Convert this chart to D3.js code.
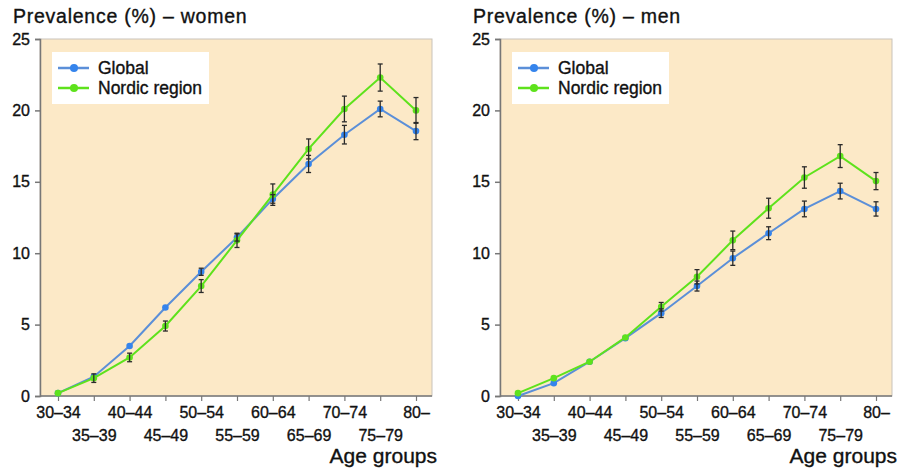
<!DOCTYPE html>
<html><head><meta charset="utf-8">
<script src="https://cdn.jsdelivr.net/npm/d3@7"></script>
<style>
html,body{margin:0;padding:0;background:#fff;}
svg{display:block;font-family:"Liberation Sans",Arial,sans-serif;}
svg text{stroke:#111;stroke-width:0.35px;}
</style></head>
<body>
<svg id="c" width="902" height="468"></svg>
<script>
const ageGroups = ["30–34","35–39","40–44","45–49","50–54","55–59","60–64","65–69","70–74","75–79","80–"];
const yTicks = [0,5,10,15,20,25];
const seriesNames = ["Global","Nordic region"];

const womenGlobal = [0.2,1.35,3.5,6.2,8.7,11.1,13.8,16.25,18.3,20.1,18.55];
const womenGlobalErr = [0.05,0.1,0.1,0.1,0.25,0.25,0.3,0.6,0.65,0.55,0.6];
const womenNordic = [0.2,1.25,2.7,4.9,7.7,10.9,14.1,17.3,20.1,22.3,20.0];
const womenNordicErr = [0.1,0.3,0.3,0.35,0.45,0.5,0.75,0.7,0.9,0.95,0.9];

const menGlobal = [0.0,0.9,2.4,4.05,5.8,7.7,9.65,11.4,13.1,14.35,13.1];
const menGlobalErr = [0.05,0.05,0.05,0.1,0.3,0.35,0.5,0.45,0.55,0.55,0.5];
const menNordic = [0.2,1.25,2.4,4.1,6.25,8.35,10.9,13.15,15.3,16.8,15.05];
const menNordicErr = [0.05,0.1,0.1,0.1,0.3,0.5,0.65,0.7,0.75,0.8,0.6];

const panels = [
  {title:"Prevalence (%) – women", left:40, right:432, titleX:13, g:womenGlobal, ge:womenGlobalErr, n:womenNordic, ne:womenNordicErr},
  {title:"Prevalence (%) – men", left:500, right:892, titleX:473, g:menGlobal, ge:menGlobalErr, n:menNordic, ne:menNordicErr}
];
const colors = {"Global":"#3584ec","Nordic region":"#5ee21c"};
const lineColors = {"Global":"#5b8fd8","Nordic region":"#5ee21c"};

const svg = d3.select("#c");
const plotTop = 39, plotBottom = 396;

panels.forEach(p => {
  const g = svg.append("g");
  const x = d3.scalePoint().domain(ageGroups).range([p.left+18, p.right-16]);
  const y = d3.scaleLinear().domain([0,25]).range([plotBottom, plotTop]);

  g.append("rect").attr("x",p.left).attr("y",plotTop).attr("width",p.right-p.left).attr("height",plotBottom-plotTop)
    .attr("fill","#fce9c7").attr("stroke","#c9c3bb").attr("stroke-width",1);

  g.append("text").attr("x",p.titleX).attr("y",23).attr("font-size",19.5).attr("letter-spacing","0.75px").attr("fill","#111")
    .text(p.title);

  const ya = g.append("g").attr("transform",`translate(${p.left},0)`)
    .call(d3.axisLeft(y).tickValues(yTicks).tickSize(5).tickPadding(5));
  ya.select(".domain").attr("stroke","#777").attr("stroke-width",1.5);
  ya.selectAll(".tick line").attr("stroke","#777").attr("stroke-width",1.5);
  ya.selectAll(".tick text").attr("font-size",16).attr("fill","#111").attr("font-family","Liberation Sans, Arial, sans-serif");

  const xa = g.append("g").attr("transform",`translate(0,${plotBottom})`)
    .call(d3.axisBottom(x).tickSize(5).tickPadding(6));
  xa.select(".domain").attr("stroke","#777").attr("stroke-width",1.5)
    .attr("d",`M${p.left},0H${p.right}`);
  xa.selectAll(".tick line").attr("stroke","#777").attr("stroke-width",1.2);
  xa.selectAll(".tick text").attr("font-size",16).attr("fill","#111").attr("font-family","Liberation Sans, Arial, sans-serif")
    .attr("dy",(d,i)=> i%2===0 ? "0.71em" : "2.15em");

  g.append("text").attr("x",p.right+5).attr("y",463).attr("text-anchor","end")
    .attr("font-size",21).attr("fill","#111").text("Age groups");

  const data = [
    {name:"Global", v:p.g, e:p.ge},
    {name:"Nordic region", v:p.n, e:p.ne}
  ];
  const line = d3.line().x((d,i)=>x(ageGroups[i])).y(d=>y(d));
  data.forEach(s => {
    g.append("path").attr("d",line(s.v)).attr("fill","none")
      .attr("stroke",lineColors[s.name]).attr("stroke-width",2);
    g.selectAll(null).data(s.v).enter().append("circle")
      .attr("cx",(d,i)=>x(ageGroups[i])).attr("cy",d=>y(d)).attr("r",3.3)
      .attr("fill",colors[s.name]);
  });
  data.forEach(s => {
    s.v.forEach((v,i) => {
      const e = s.e[i];
      if (y(v-e)-y(v+e) < 4) return;
      const cx = x(ageGroups[i]);
      const eg = g.append("g").attr("stroke","#2a2a2a").attr("stroke-width",1.3);
      eg.append("line").attr("x1",cx).attr("x2",cx).attr("y1",y(v-e)).attr("y2",y(v+e));
      eg.append("line").attr("x1",cx-2.5).attr("x2",cx+2.5).attr("y1",y(v-e)).attr("y2",y(v-e));
      eg.append("line").attr("x1",cx-2.5).attr("x2",cx+2.5).attr("y1",y(v+e)).attr("y2",y(v+e));
    });
  });

  const lx = p.left+12, ly = 52;
  g.append("rect").attr("x",lx).attr("y",ly).attr("width",157).attr("height",52).attr("fill","#fff");
  seriesNames.forEach((nm,i) => {
    const yy = ly+16+i*20;
    g.append("line").attr("x1",lx+6).attr("x2",lx+37).attr("y1",yy).attr("y2",yy)
      .attr("stroke",lineColors[nm]).attr("stroke-width",2.5);
    g.append("circle").attr("cx",lx+22).attr("cy",yy).attr("r",4).attr("fill",colors[nm]);
    g.append("text").attr("x",lx+46).attr("y",yy+6).attr("font-size",17.5).attr("fill","#111").text(nm);
  });
});
</script>
</body></html>
